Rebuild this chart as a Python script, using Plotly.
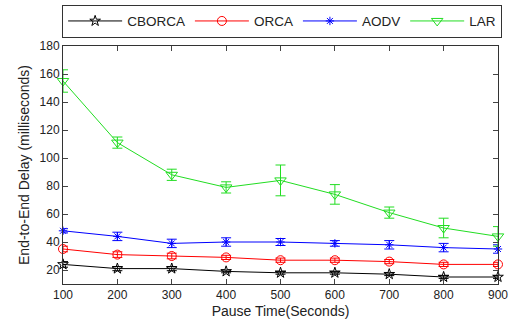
import plotly.graph_objects as go

pause_time = [100, 200, 300, 400, 500, 600, 700, 800, 900]
cborca = [24, 21, 21, 19, 18, 18, 17, 15, 15]
cborca_err = [2, 1.5, 1.5, 1, 1, 1, 1, 1, 1]
orca = [35, 31, 30, 29, 27, 27, 26, 24, 24]
orca_err = [2, 2, 2, 1.5, 1.5, 1.5, 1.5, 1.5, 1.5]
aodv = [48, 44, 39, 40, 40, 39, 38, 36, 35]
aodv_err = [1.5, 3, 3, 3, 2.5, 2, 3, 3, 3]
lar = [155, 111, 88, 79, 84, 74, 61, 50, 44]
lar_err = [8, 4, 4, 4, 11, 7, 4, 7, 7]

series = [
    ("CBORCA", cborca, cborca_err, "black", "star-open", 8),
    ("ORCA", orca, orca_err, "red", "circle-open", 9),
    ("AODV", aodv, aodv_err, "blue", "asterisk-open", 7),
    ("LAR", lar, lar_err, "#22dd22", "triangle-down-open", 10),
]

fig = go.Figure()
for name, y, err, color, sym, size in series:
    fig.add_trace(go.Scatter(
        x=pause_time, y=y, name=name, mode="lines+markers",
        line=dict(color=color, width=1),
        marker=dict(symbol=sym, size=size, color=color, line=dict(color=color, width=1)),
        error_y=dict(type="data", array=err, visible=True, color=color, thickness=1, width=5),
        cliponaxis=False,
    ))

fig.update_layout(
    width=515, height=327,
    margin=dict(l=63, r=17, t=46, b=43, autoexpand=False),
    paper_bgcolor="white", plot_bgcolor="white",
    font=dict(family="Liberation Sans, Arial, sans-serif", size=12, color="#222"),
    showlegend=True,
    legend=dict(orientation="h", x=-0.002, y=1.035, xanchor="left", yanchor="bottom",
                bordercolor="#333", borderwidth=1, font=dict(size=13.5),
                itemwidth=54, tracegroupgap=0),
    xaxis=dict(range=[100, 900], tickvals=pause_time, ticks="inside", ticklen=5,
               showgrid=False, zeroline=False, showline=True, linecolor="#333",
               mirror="ticks", title=dict(text="Pause Time(Seconds)", standoff=4)),
    yaxis=dict(range=[10, 180], tickvals=[20, 40, 60, 80, 100, 120, 140, 160, 180],
               ticks="inside", ticklen=5, showgrid=False, zeroline=False, showline=True,
               linecolor="#333", mirror="ticks",
               title=dict(text="End-to-End Delay (milliseconds)", standoff=6)),
)

fig.write_html("out.html", config={"displayModeBar": False},
               post_script="document.body.style.margin='0';")
